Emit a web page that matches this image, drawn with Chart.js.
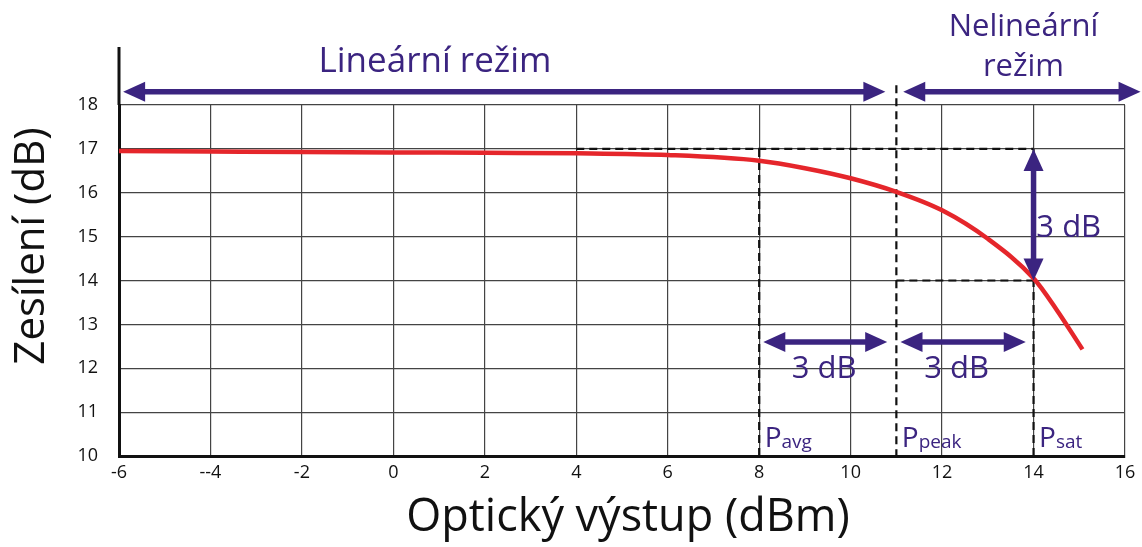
<!DOCTYPE html>
<html>
<head>
<meta charset="utf-8">
<script src="https://cdn.jsdelivr.net/npm/chart.js@4.4.1/dist/chart.umd.min.js"></script>
<style>
  html, body { margin: 0; padding: 0; background: #fff; }
  #wrap { width: 1142px; height: 547px; }
</style>
</head>
<body>
<div id="wrap"><canvas id="chart" width="1142" height="547"></canvas></div>
<script>
/* global Chart */

// axis ticks
const xTicks = [-6, -4, -2, 0, 2, 4, 6, 8, 10, 12, 14, 16]
const xTickLabels = ['-6', '--4', '-2', '0', '2', '4', '6', '8', '10', '12', '14', '16']
const yTicks = [10, 11, 12, 13, 14, 15, 16, 17, 18]

// gain curve
const curveX = [-6, -4, -2, 0, 2, 4, 6, 8, 9, 10, 11, 12, 13, 14, 14.5, 15.07]
const curveY = [16.95, 16.94, 16.93, 16.92, 16.91, 16.9, 16.86, 16.73, 16.56, 16.33, 16.02, 15.6, 14.95, 14.05, 13.34, 12.43]

// dashed guide lines [x1, y1, x2, y2]
const dashedSegments = [
  [4, 17, 14, 17],
  [8, 17, 8, 10],
  [14, 17, 14, 10],
  [11, 14, 14, 14],
  [11, 18.45, 11, 10]
]

// double-headed arrows [x1, y1, x2, y2]
const arrowSegments = [
  [-5.91, 18.3, 10.76, 18.3],
  [11.15, 18.3, 16.34, 18.3],
  [14, 17, 14, 14],
  [8.09, 12.6, 10.8, 12.6],
  [11.09, 12.6, 13.83, 12.6]
]

const PURPLE = '#3b2480'
const FONT = '"Open Sans", "Noto Sans", sans-serif'

function drawArrow (ctx, x1, y1, x2, y2) {
  const len = Math.hypot(x2 - x1, y2 - y1)
  const ux = (x2 - x1) / len
  const uy = (y2 - y1) / len
  const head = 22
  const half = 10
  ctx.save()
  ctx.strokeStyle = PURPLE
  ctx.fillStyle = PURPLE
  ctx.lineWidth = 5.5
  ctx.beginPath()
  ctx.moveTo(x1 + ux * (head - 4), y1 + uy * (head - 4))
  ctx.lineTo(x2 - ux * (head - 4), y2 - uy * (head - 4))
  ctx.stroke()
  const tip = (tx, ty, dx, dy) => {
    ctx.beginPath()
    ctx.moveTo(tx, ty)
    ctx.lineTo(tx + dx * head - dy * half, ty + dy * head + dx * half)
    ctx.lineTo(tx + dx * head + dy * half, ty + dy * head - dx * half)
    ctx.closePath()
    ctx.fill()
  }
  tip(x1, y1, ux, uy)
  tip(x2, y2, -ux, -uy)
  ctx.restore()
}

function drawSubLabel (ctx, x, y, main, sub) {
  ctx.font = '28px ' + FONT
  ctx.textAlign = 'left'
  ctx.textBaseline = 'alphabetic'
  ctx.fillText(main, x, y)
  const w = ctx.measureText(main).width
  ctx.font = '19px ' + FONT
  ctx.fillText(sub, x + w, y + 1)
}

const annotations = {
  id: 'annotations',
  afterDatasetsDraw (chart) {
    const { ctx, scales: { x, y }, chartArea } = chart
    const px = v => x.getPixelForValue(v)
    const py = v => y.getPixelForValue(v)

    // y axis continues above the grid
    ctx.save()
    ctx.strokeStyle = '#111'
    ctx.lineWidth = 3
    ctx.beginPath()
    ctx.moveTo(chartArea.left, chartArea.top)
    ctx.lineTo(chartArea.left, 47)
    ctx.stroke()
    ctx.restore()

    arrowSegments.forEach(s => drawArrow(ctx, px(s[0]), py(s[1]), px(s[2]), py(s[3])))

    ctx.save()
    ctx.fillStyle = PURPLE
    ctx.textAlign = 'center'
    ctx.textBaseline = 'middle'
    ctx.font = '35px ' + FONT
    ctx.fillText('Lineární režim', px(0.91), py(18.98))
    ctx.font = '31px ' + FONT
    ctx.fillText('Nelineární', px(13.78), py(19.77))
    ctx.fillText('režim', px(13.78), py(18.86))
    ctx.font = '31px ' + FONT
    ctx.fillText('3 dB', px(14.77), py(15.2))
    ctx.fillText('3 dB', px(9.42), py(11.97))
    ctx.fillText('3 dB', px(12.32), py(11.97))
    drawSubLabel(ctx, px(8.12), py(10.2), 'P', 'avg')
    drawSubLabel(ctx, px(11.12), py(10.2), 'P', 'peak')
    drawSubLabel(ctx, px(14.12), py(10.2), 'P', 'sat')
    ctx.restore()

    // axis titles
    ctx.save()
    ctx.fillStyle = '#111'
    ctx.font = '45px ' + FONT
    ctx.textAlign = 'center'
    ctx.textBaseline = 'middle'
    ctx.fillText('Optický výstup (dBm)', 628, 518)
    ctx.font = '42px ' + FONT
    ctx.translate(32, 246)
    ctx.rotate(-Math.PI / 2)
    ctx.fillText('Zesílení (dB)', 0, 0)
    ctx.restore()
  }
}

const datasets = [{
  data: curveX.map((v, i) => ({ x: v, y: curveY[i] })),
  showLine: true,
  borderColor: '#e5262b',
  borderWidth: 4.5,
  pointRadius: 0,
  cubicInterpolationMode: 'monotone',
  order: 0
}].concat(dashedSegments.map(s => ({
  data: [{ x: s[0], y: s[1] }, { x: s[2], y: s[3] }],
  showLine: true,
  borderColor: '#111',
  borderWidth: 2.2,
  borderDash: [8, 5],
  pointRadius: 0,
  clip: false,
  order: 1
})))

new Chart(document.getElementById('chart').getContext('2d'), {
  type: 'scatter',
  data: { datasets },
  options: {
    responsive: false,
    animation: false,
    layout: { padding: { top: 105, right: 17, left: 0, bottom: 0 } },
    plugins: { legend: { display: false }, tooltip: { enabled: false } },
    scales: {
      x: {
        type: 'linear',
        min: -6,
        max: 16,
        afterBuildTicks: scale => { scale.ticks = xTicks.map(v => ({ value: v })) },
        afterFit: scale => { scale.height = 91 },
        ticks: {
          color: '#111',
          font: { family: FONT, size: 18 },
          padding: 6,
          maxRotation: 0,
          callback: v => xTickLabels[xTicks.indexOf(v)]
        },
        grid: { color: '#444', lineWidth: 1.2, drawTicks: false },
        border: { color: '#111', width: 3 }
      },
      y: {
        type: 'linear',
        min: 10,
        max: 18,
        afterBuildTicks: scale => { scale.ticks = yTicks.map(v => ({ value: v })) },
        afterFit: scale => { scale.width = 119 },
        ticks: {
          color: '#111',
          font: { family: FONT, size: 18 },
          padding: 21
        },
        grid: { color: '#444', lineWidth: 1.2, drawTicks: false },
        border: { color: '#111', width: 3 }
      }
    }
  },
  plugins: [annotations]
})
</script>
</body>
</html>
